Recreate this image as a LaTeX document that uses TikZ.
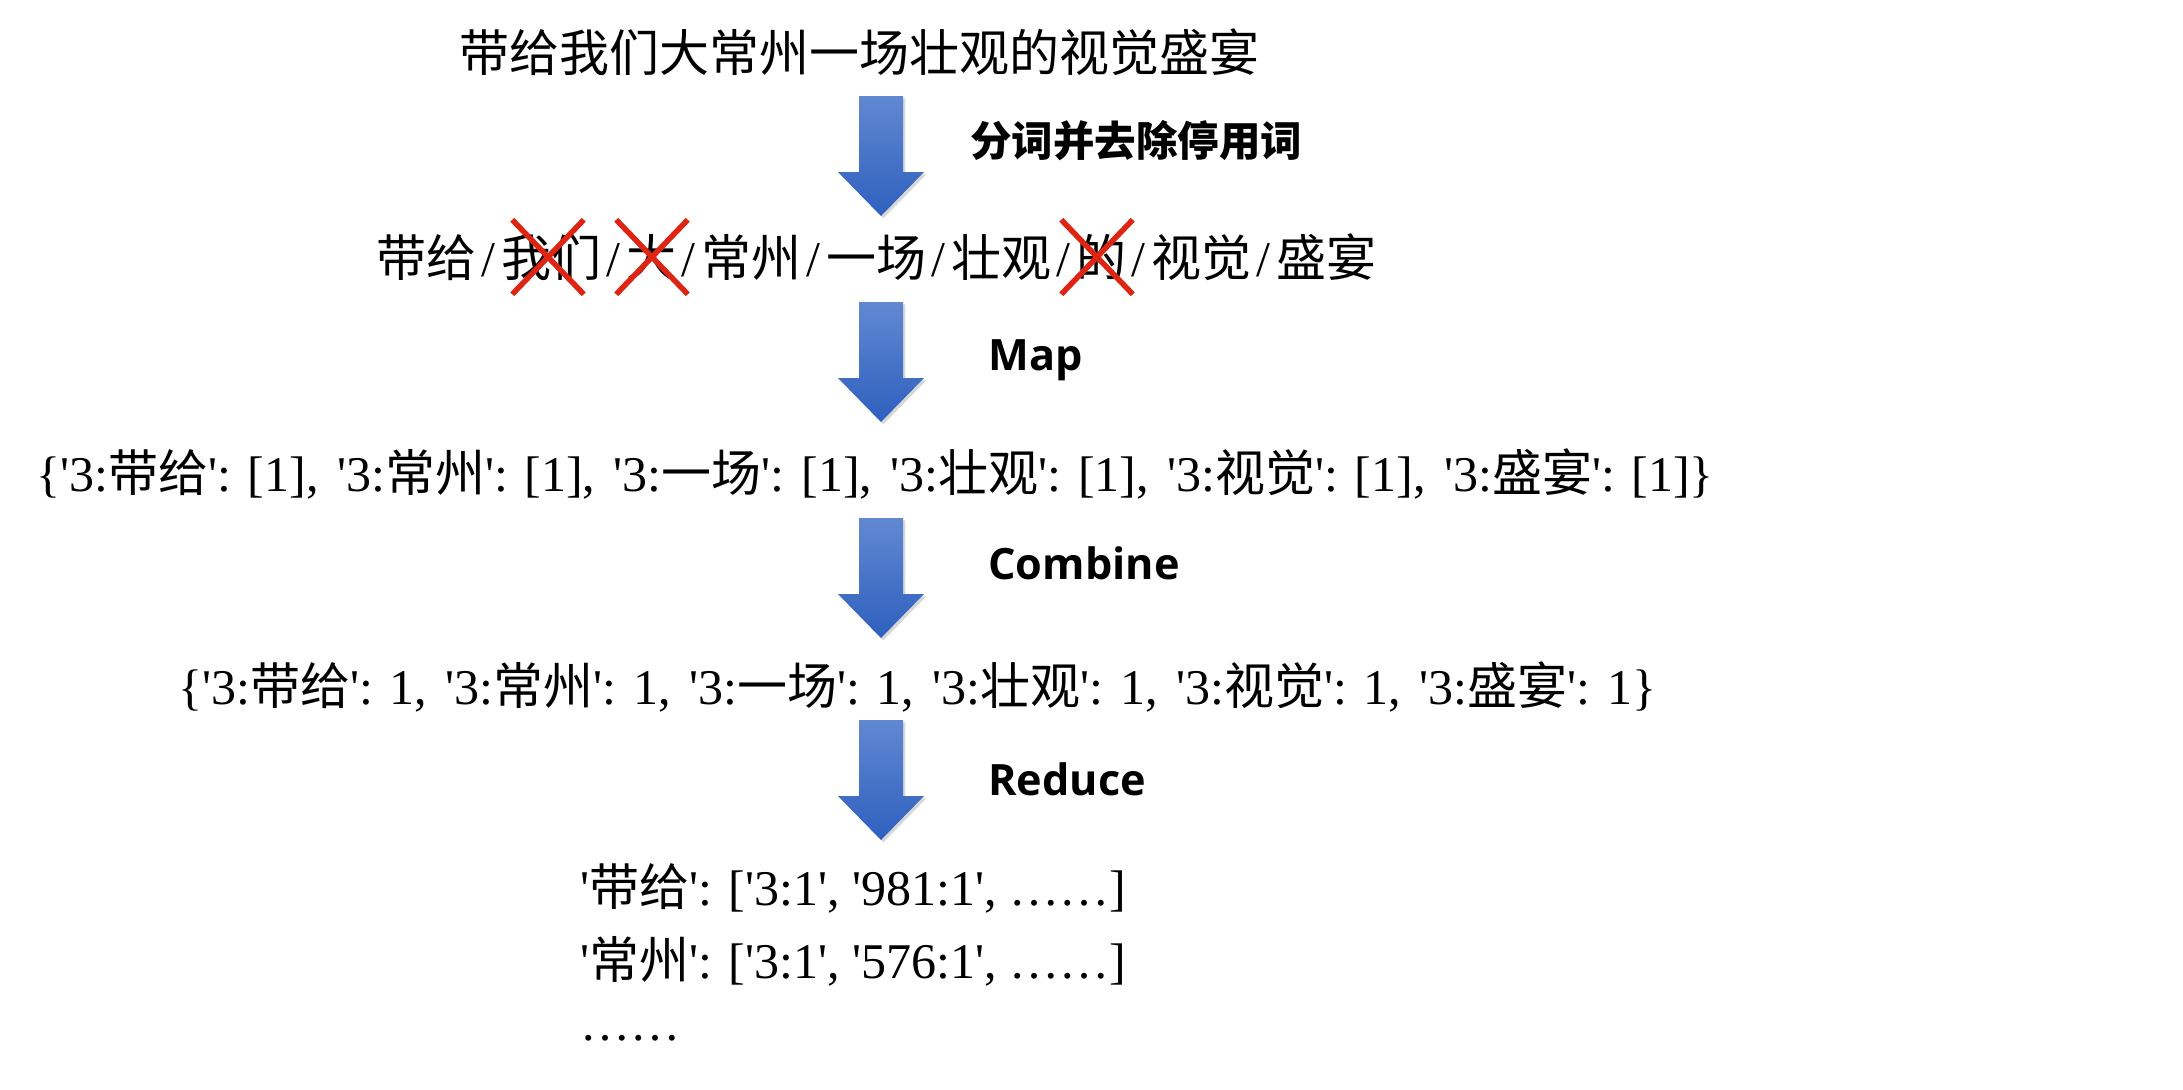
\documentclass[tikz,border=0pt]{standalone}
\usepackage{fontspec}
\setmainfont{Liberation Serif}[Ligatures=TeXOff]
\newfontfamily\cjk{Noto Sans CJK SC}
\newfontfamily\lbl{Open Sans}
\usetikzlibrary{shapes.misc,shadows}
\definecolor{arrtop}{RGB}{98,136,210}
\definecolor{arrbot}{RGB}{46,96,190}
\definecolor{xred}{RGB}{222,36,18}
\newcommand\zh[1]{{\cjk #1}}
\newcommand\slh{\makebox[0.5em]{/}}
\newcommand\csp{\hspace*{0.37em}}
\begin{document}
\begin{tikzpicture}[x=0.5pt,y=-0.5pt,
 txt/.style={anchor=base west, inner sep=0pt, font=\fontsize{25}{30}\selectfont},
 lab/.style={anchor=base west, inner sep=0pt, font=\lbl\bfseries\fontsize{21.6}{26}\selectfont},
 zhlab/.style={anchor=base west, inner sep=0pt, font=\cjk\bfseries\fontsize{20.75}{25}\selectfont},
 xmark/.style={cross out, draw=xred, line width=2.75pt, inner sep=0pt, minimum width=33pt, minimum height=34.5pt},
 blockarrow/.pic={\path[top color=arrtop, bottom color=arrbot, drop shadow={shadow xshift=1.2pt, shadow yshift=-1.2pt, opacity=0.3}] (-22,0) -- (22,0) -- (22,76) -- (43,76) -- (0,120) -- (-43,76) -- (-22,76) -- cycle;}
]
\useasboundingbox[fill=white] (0,0) rectangle (2183,1089);

% text lines
\node[txt] (t0) at (459,71) {\zh{带给我们大常州一场壮观的视觉盛宴}};
\node[txt] (t1) at (376,276) {\zh{带给}\slh\zh{我们}\slh\zh{大}\slh\zh{常州}\slh\zh{一场}\slh\zh{壮观}\slh\zh{的}\slh\zh{视觉}\slh\zh{盛宴}};
\node[txt] (t2) at (36,491) {\{'3:\zh{带给}': [1],\csp'3:\zh{常州}': [1],\csp'3:\zh{一场}': [1],\csp'3:\zh{壮观}': [1],\csp'3:\zh{视觉}': [1],\csp'3:\zh{盛宴}': [1]\}};
\node[txt] (t3) at (178,704) {\{'3:\zh{带给}': 1,\csp'3:\zh{常州}': 1,\csp'3:\zh{一场}': 1,\csp'3:\zh{壮观}': 1,\csp'3:\zh{视觉}': 1,\csp'3:\zh{盛宴}': 1\}};
\node[txt] (t4) at (580,905) {'\zh{带给}': ['3:1', '981:1', ……]};
\node[txt] (t5) at (580,978) {'\zh{常州}': ['3:1', '576:1', ……]};
\node[txt] (t6) at (580,1040) {……};

% crossed-out stop words
\node[xmark] (x1) at (548,257) {};
\node[xmark] (x2) at (652,257) {};
\node[xmark] (x3) at (1097,257) {};

% block arrows
\coordinate (a1) at (881,96);
\coordinate (a2) at (881,302);
\coordinate (a3) at (881,518);
\coordinate (a4) at (881,720);
\pic at (a1) {blockarrow};
\pic at (a2) {blockarrow};
\pic at (a3) {blockarrow};
\pic at (a4) {blockarrow};

% step labels
\node[zhlab] (l1) at (970,156) {分词并去除停用词};
\node[lab] (l2) at (988,370) {Map};
\node[lab] (l3) at (988,579) {Combine};
\node[lab] (l4) at (988,795) {Reduce};
\end{tikzpicture}
\end{document}
